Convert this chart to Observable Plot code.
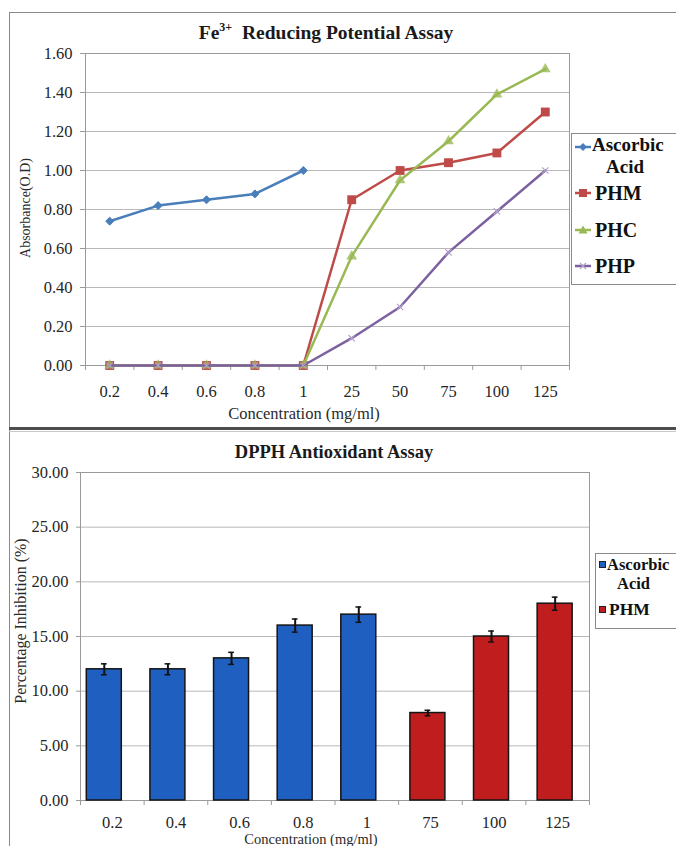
<!DOCTYPE html>
<html>
<head>
<meta charset="utf-8">
<script src="https://cdn.jsdelivr.net/npm/d3@7"></script>
<script src="https://cdn.jsdelivr.net/npm/@observablehq/plot@0.6"></script>
<style>
  html, body { margin: 0; padding: 0; background: #fff; }
  #page { position: relative; width: 676px; height: 846px; overflow: hidden; background: #fff;
          font-family: "Liberation Serif", "Times New Roman", serif; color: #222; }
  .abs { position: absolute; }
  .title { font-weight: bold; font-size: 19.5px; white-space: nowrap; transform: translate(-50%, -50%); color: #1a1a1a; }
  .axt { font-size: 16.5px; white-space: nowrap; transform: translate(-50%, -50%); color: #2a2a2a; }
  .axty { font-size: 14px; white-space: nowrap; transform: translate(-50%, -50%) rotate(-90deg); color: #2a2a2a; }
  .leg { border: 1px solid #8a8a8a; background: #fff; }
  .legtxt { font-weight: bold; white-space: nowrap; transform: translateY(-50%); color: #111; }
  .line { background: #8a8a8a; }
  svg { display: block; }
</style>
</head>
<body>
<div id="page"></div>
<script>
// ---------- data: Fe3+ reducing potential ----------
const feCats = ["0.2", "0.4", "0.6", "0.8", "1", "25", "50", "75", "100", "125"];
const ascorbicAbs = [0.74, 0.82, 0.85, 0.88, 1.00];
const phmAbs = [0, 0, 0, 0, 0, 0.85, 1.00, 1.04, 1.09, 1.30];
const phcAbs = [0, 0, 0, 0, 0, 0.56, 0.95, 1.15, 1.39, 1.52];
const phpAbs = [0, 0, 0, 0, 0, 0.14, 0.30, 0.58, 0.79, 1.00];
const absTicks = [0, 0.2, 0.4, 0.6, 0.8, 1.0, 1.2, 1.4, 1.6];

// ---------- data: DPPH antioxidant ----------
const dpphCats = ["0.2", "0.4", "0.6", "0.8", "1", "75", "100", "125"];
const dpphSeries = ["Ascorbic Acid", "Ascorbic Acid", "Ascorbic Acid", "Ascorbic Acid", "Ascorbic Acid", "PHM", "PHM", "PHM"];
const dpphValues = [12, 12, 13, 16, 17, 8, 15, 18];
const dpphErrors = [0.5, 0.5, 0.55, 0.6, 0.7, 0.25, 0.5, 0.6];
const inhibTicks = [0, 5, 10, 15, 20, 25, 30];

// ---------- styles ----------
const SERIF = '"Liberation Serif", "Times New Roman", serif';
const lineColors = { "Ascorbic Acid": "#4a7ebb", "PHM": "#be4b48", "PHC": "#98b954", "PHP": "#7d60a0" };
const barColors = { "Ascorbic Acid": "#1f5fbf", "PHM": "#c01e1e" };
const barShift = { "Ascorbic Acid": -0.126, "PHM": -0.04 };
const barHalf = 0.275;
const capHalf = 0.045;
const frameColor = "#9a9a9a";
const gridColor = "#b8b8b8";
const textColor = "#262626";
const tickFont = { fontFamily: SERIF, fontSize: 16.5 };

const page = document.getElementById("page");
function addDiv(cls, left, topPx, html, extra) {
  const d = document.createElement("div");
  d.className = "abs " + cls;
  d.style.left = left + "px";
  d.style.top = topPx + "px";
  if (extra) Object.assign(d.style, extra);
  d.innerHTML = html;
  page.appendChild(d);
  return d;
}

// ---------- top chart ----------
const rows = (name, vals) => vals.map((v, i) => ({ name, i, v }));
const asc = rows("Ascorbic Acid", ascorbicAbs);
const phm = rows("PHM", phmAbs);
const phc = rows("PHC", phcAbs);
const php = rows("PHP", phpAbs);

const feChart = Plot.plot({
  width: 676, height: 428,
  marginTop: 53, marginBottom: 63, marginLeft: 85, marginRight: 107,
  style: { fontFamily: SERIF, fontSize: "16.5px", color: textColor, background: "transparent" },
  x: { domain: [-0.5, feCats.length - 0.5], axis: null },
  y: { domain: [0, 1.6], axis: null },
  marks: [
    Plot.gridY(absTicks, { stroke: gridColor, strokeOpacity: 1 }),
    Plot.frame({ stroke: frameColor }),
    Plot.axisY(absTicks, { ...tickFont, tickSize: 5, tickPadding: 8, tickFormat: d3.format(".2f"), stroke: frameColor, fill: textColor, label: null }),
    Plot.axisX(d3.range(feCats.length + 1).map(i => i - 0.5), { tickSize: 5, tickFormat: () => "", stroke: frameColor, label: null }),
    Plot.axisX(d3.range(feCats.length), { ...tickFont, tickSize: 0, tickPadding: 20, tickFormat: i => feCats[i], fill: textColor, label: null }),
    Plot.line(asc, { x: "i", y: "v", stroke: lineColors["Ascorbic Acid"], strokeWidth: 2.5 }),
    Plot.dot(asc, { x: "i", y: "v", symbol: "diamond2", r: 3.6, fill: lineColors["Ascorbic Acid"], stroke: lineColors["Ascorbic Acid"], strokeWidth: 1 }),
    Plot.line(phm, { x: "i", y: "v", stroke: lineColors["PHM"], strokeWidth: 2.5 }),
    Plot.dot(phm, { x: "i", y: "v", symbol: "square", r: 5, fill: lineColors["PHM"] }),
    Plot.line(phc, { x: "i", y: "v", stroke: lineColors["PHC"], strokeWidth: 2.5 }),
    Plot.dot(phc, { x: "i", y: "v", symbol: "triangle", r: 4, fill: lineColors["PHC"], fillOpacity: 0.8 }),
    Plot.line(php, { x: "i", y: "v", stroke: lineColors["PHP"], strokeWidth: 2.5 }),
    Plot.dot(php, { x: "i", y: "v", symbol: "times", r: 3, stroke: "#b3a2cc", strokeWidth: 1.2 })
  ]
});
feChart.style.position = "absolute";
feChart.style.left = "0px";
feChart.style.top = "0px";
page.appendChild(feChart);

// ---------- bottom chart ----------
const bars = dpphValues.map((v, i) => ({ i, v, e: dpphErrors[i], name: dpphSeries[i], c: dpphCats[i] }));
const bx = d => d.i + barShift[d.name];

const dpphChart = Plot.plot({
  width: 676, height: 418,
  marginTop: 44, marginBottom: 46, marginLeft: 80, marginRight: 87,
  style: { fontFamily: SERIF, fontSize: "16.5px", color: textColor, background: "transparent" },
  x: { domain: [-0.5, dpphCats.length - 0.5], axis: null },
  y: { domain: [0, 30], axis: null },
  marks: [
    Plot.gridY(inhibTicks, { stroke: gridColor, strokeOpacity: 1 }),
    Plot.frame({ stroke: frameColor }),
    Plot.axisY(inhibTicks, { ...tickFont, tickSize: 4, tickPadding: 8, tickFormat: d3.format(".2f"), stroke: frameColor, fill: textColor, label: null }),
    Plot.axisX(d3.range(dpphCats.length + 1).map(i => i - 0.5), { tickSize: 5, tickFormat: () => "", stroke: frameColor, label: null }),
    Plot.axisX(d3.range(dpphCats.length), { ...tickFont, tickSize: 0, tickPadding: 16, tickFormat: i => dpphCats[i], fill: textColor, label: null }),
    Plot.rectY(bars, { x1: d => bx(d) - barHalf, x2: d => bx(d) + barHalf, y1: 0, y2: "v",
      fill: d => barColors[d.name], stroke: "#151515", strokeWidth: 1.5 }),
    Plot.ruleX(bars, { x: bx, y1: d => d.v - d.e, y2: d => d.v + d.e, stroke: "#111", strokeWidth: 2 }),
    Plot.ruleY(bars, { y: d => d.v + d.e, x1: d => bx(d) - capHalf, x2: d => bx(d) + capHalf, stroke: "#111", strokeWidth: 1.5 }),
    Plot.ruleY(bars, { y: d => d.v - d.e, x1: d => bx(d) - capHalf, x2: d => bx(d) + capHalf, stroke: "#111", strokeWidth: 1.5 })
  ]
});
dpphChart.style.position = "absolute";
dpphChart.style.left = "0px";
dpphChart.style.top = "428px";
page.appendChild(dpphChart);

// ---------- panel borders ----------
addDiv("line", 9, 12, "", { width: "667px", height: "1px" });
addDiv("line", 9, 12, "", { width: "1px", height: "834px" });
addDiv("line", 9, 427, "", { width: "667px", height: "3px", background: "#4d4d4d" });
addDiv("line", 9, 431, "", { width: "667px", height: "1px", background: "#c8c8c8" });

// ---------- titles & axis titles ----------
addDiv("title", 326, 33, 'Fe<sup style="font-size:12px;vertical-align:8px;line-height:0">3+</sup>&nbsp; Reducing Potential Assay');
addDiv("axt", 304, 414, "Concentration (mg/ml)");
addDiv("axty", 26, 208, "Absorbance(O.D)");

addDiv("title", 334, 452, "DPPH Antioxidant Assay", { fontSize: "18.5px" });
addDiv("axt", 311, 839, "Concentration (mg/ml)", { fontSize: "14.5px" });
addDiv("axty", 21, 621, "Percentage Inhibition (%)", { fontSize: "16px" });

// ---------- legends ----------
function markerSvg(kind, color) {
  const line = `<line x1="1" y1="8" x2="17" y2="8" stroke="${color}" stroke-width="2.5"/>`;
  let m = "";
  if (kind === "diamond") m = `<path d="M9,4 L13,8 L9,12 L5,8 Z" fill="${color}"/>`;
  if (kind === "square") m = `<rect x="5" y="4" width="8" height="8" fill="${color}"/>`;
  if (kind === "triangle") m = `<path d="M9,3.5 L13.5,11.5 L4.5,11.5 Z" fill="${color}"/>`;
  if (kind === "times") m = `<path d="M6,5 L12,11 M12,5 L6,11" stroke="#b3a2cc" stroke-width="1.2"/>`;
  return `<svg width="18" height="16">${line}${m}</svg>`;
}
addDiv("leg", 571, 133, "", { width: "130px", height: "150px" });
const topLeg = [
  { kind: "diamond", name: "Ascorbic Acid", y: 147 },
  { kind: "square", name: "PHM", y: 193 },
  { kind: "triangle", name: "PHC", y: 230 },
  { kind: "times", name: "PHP", y: 266 }
];
topLeg.forEach(e => {
  addDiv("", 574, e.y - 8, markerSvg(e.kind, lineColors[e.name]));
});
addDiv("legtxt", 592, 145, "Ascorbic", { fontSize: "19px", lineHeight: "20px" });
addDiv("legtxt", 606, 167, "Acid", { fontSize: "19px", lineHeight: "20px" });
addDiv("legtxt", 595, 193, "PHM", { fontSize: "20px" });
addDiv("legtxt", 595, 230, "PHC", { fontSize: "20px" });
addDiv("legtxt", 595, 266, "PHP", { fontSize: "20px" });

addDiv("leg", 595, 553, "", { width: "110px", height: "74px" });
addDiv("", 599, 561, "", { width: "5px", height: "5px", background: barColors["Ascorbic Acid"], border: "1px solid #222" });
addDiv("", 599, 606, "", { width: "5px", height: "5px", background: barColors["PHM"], border: "1px solid #222" });
addDiv("legtxt", 607, 564, "Ascorbic", { fontSize: "16.5px", lineHeight: "17px" });
addDiv("legtxt", 617, 583, "Acid", { fontSize: "16.5px", lineHeight: "17px" });
addDiv("legtxt", 609, 609, "PHM", { fontSize: "17.5px" });
</script>
</body>
</html>
